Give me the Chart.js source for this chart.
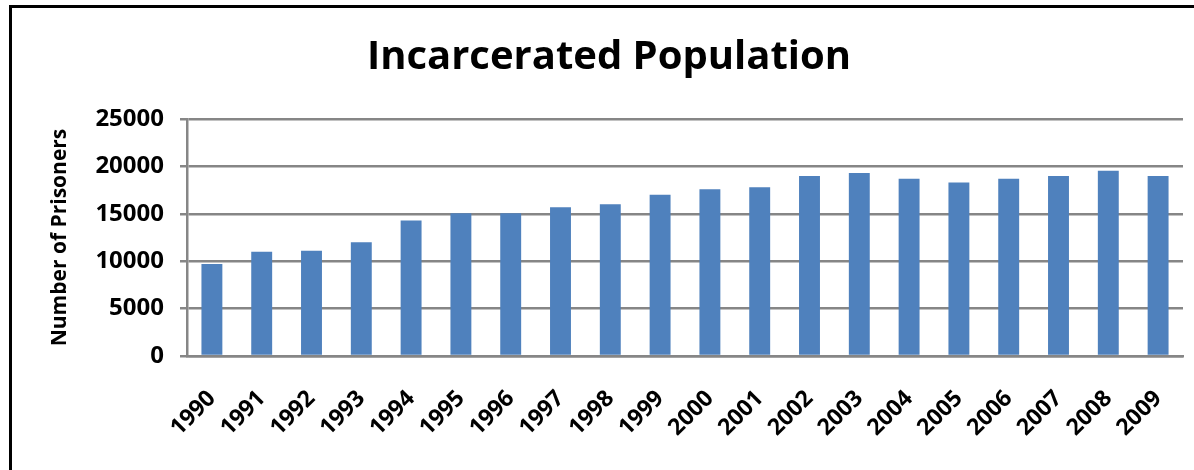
<!DOCTYPE html>
<html lang="en">
  <head>
    <meta charset="UTF-8" />
    <title>Incarcerated Population</title>
    <script src="https://cdn.jsdelivr.net/npm/chart.js"></script>
    <style>
      html, body { margin: 0; padding: 0; background: #fff; overflow: hidden; }
      #frame {
        position: absolute;
        left: 9px;
        top: 5px;
        width: 1210px;
        height: 500px;
        border: 3px solid #000;
      }
      #wrap { position: absolute; left: 0; top: 0; width: 1194px; height: 470px; }
    </style>
  </head>
  <body>
    <div id="frame"></div>
    <div id="wrap"><canvas id="chart" width="1194" height="470"></canvas></div>

    <script>
      // chart data
      const years = ["1990", "1991", "1992", "1993", "1994", "1995", "1996", "1997", "1998", "1999",
                     "2000", "2001", "2002", "2003", "2004", "2005", "2006", "2007", "2008", "2009"];
      const prisoners = [9700, 11000, 11100, 12000, 14300, 15050, 15050, 15700, 16000, 17000,
                         17600, 17800, 19000, 19300, 18700, 18300, 18700, 19000, 19550, 19000];
      const yTicks = [0, 5000, 10000, 15000, 20000, 25000];

      const font = "'Open Sans', 'Liberation Sans', sans-serif";
      const gray = "#868686";

      new Chart(document.getElementById("chart"), {
        type: "bar",
        data: {
          labels: years,
          datasets: [
            {
              label: "Number of Prisoners",
              data: prisoners,
              backgroundColor: "#4F81BD",
              borderWidth: 0,
              barPercentage: 0.42,
              categoryPercentage: 1,
            },
          ],
        },
        options: {
          responsive: false,
          animation: false,
          devicePixelRatio: 1,
          layout: { padding: { left: 35, right: 11, top: 0, bottom: 0 } },
          plugins: {
            legend: { display: false },
            tooltip: { enabled: false },
            title: {
              display: true,
              text: "Incarcerated Population",
              color: "#000",
              font: { family: font, size: 40, weight: "bold" },
              padding: { top: 34, bottom: 37 },
            },
          },
          scales: {
            x: {
              grid: { display: false, drawTicks: false },
              border: { display: true, color: gray, width: 2.5 },
              ticks: {
                autoSkip: false,
                maxRotation: 45,
                minRotation: 45,
                padding: 29,
                color: "#000",
                font: { family: font, size: 23, weight: "bold" },
              },
              afterFit: (scale) => {
                scale.height = 114;
                // rotated labels end at their tick, so no extra side padding
                scale.paddingLeft = 0;
                scale.paddingRight = 0;
              },
            },
            y: {
              min: 0,
              max: 25000,
              afterBuildTicks: (scale) => {
                scale.ticks = yTicks.map((v) => ({ value: v }));
              },
              grid: { color: gray, lineWidth: 2.5, tickLength: 7 },
              border: { display: true, color: gray, width: 2.5 },
              ticks: {
                padding: 16,
                color: "#000",
                font: { family: font, size: 24, weight: "bold" },
                callback: (v) => String(v),
              },
              title: {
                display: true,
                text: "Number of Prisoners",
                color: "#000",
                font: { family: font, size: 21, weight: "bold" },
                padding: { top: 12, bottom: 0 },
              },
              afterFit: (scale) => { scale.width = 152; },
            },
          },
        },
      });
    </script>
  </body>
</html>
